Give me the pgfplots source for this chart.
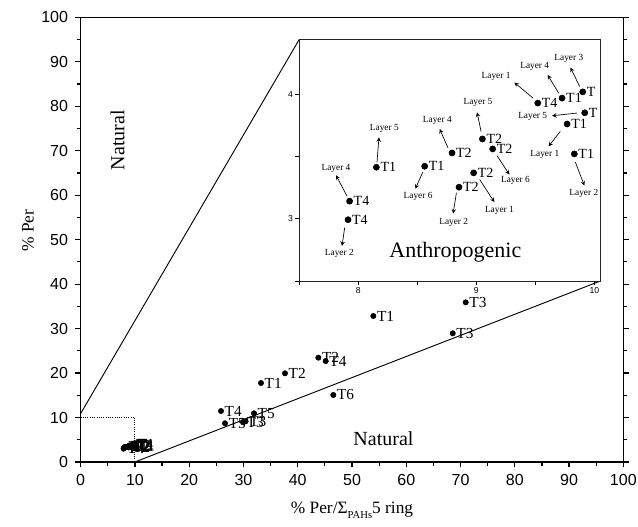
\documentclass[border=0pt]{standalone}
\usepackage{pgfplots}
\pgfplotsset{compat=1.18}
\usepackage{pgfplotstable}
\usepackage{fontspec}
\setmainfont{Liberation Serif}
\setsansfont{Liberation Sans}

\pgfplotstableread[col sep=comma]{
x,y,label
25.86,11.47,T4
26.60,8.70,T5
29.90,8.95,T3
30.40,9.15,T3
31.94,10.95,T5
33.23,17.76,T1
37.65,19.94,T2
43.80,23.46,T2
45.15,22.70,T4
46.56,15.07,T6
53.93,32.83,T1
70.95,35.90,T3
68.56,28.94,T3
}\mainpts

\pgfplotstableread[col sep=comma]{
x,y,label
7.913,2.992,T4
7.926,3.141,T4
8.153,3.413,T1
8.562,3.421,T1
8.794,3.528,T2
8.853,3.253,T2
8.977,3.368,T2
9.051,3.640,T2
9.138,3.560,T2
9.520,3.928,T4
9.726,3.968,T1
9.901,4.018,T
9.918,3.850,T
9.769,3.760,T1
9.830,3.520,T1
}\insetpts

\pgfplotstableread[col sep=comma]{
x,y,label
7.839,2.720,Layer 2
7.811,3.400,Layer 4
8.220,3.722,Layer 5
8.506,3.176,Layer 6
8.669,3.792,Layer 4
8.808,2.973,Layer 2
9.195,3.069,Layer 1
9.014,3.933,Layer 5
9.331,3.306,Layer 6
9.167,4.141,Layer 1
9.494,4.226,Layer 4
9.783,4.285,Layer 3
9.477,3.824,Layer 5
9.580,3.514,Layer 1
9.910,3.200,Layer 2
}\layerlabels

\pgfplotstableread[col sep=comma]{
x,y,u,v
7.884,2.928,-0.022,-0.147
7.904,3.181,-0.093,0.168
8.158,3.453,0.017,0.200
8.546,3.373,-0.063,-0.133
8.760,3.568,-0.071,0.152
8.831,3.208,-0.028,-0.166
9.028,3.314,0.125,-0.181
9.040,3.700,-0.034,0.153
9.175,3.506,0.105,-0.152
9.480,3.968,-0.158,0.125
9.697,4.008,-0.093,0.146
9.875,4.061,-0.078,0.152
9.853,3.848,-0.212,-0.022
9.711,3.701,-0.099,-0.120
9.839,3.453,0.076,-0.187
}\arrows

\begin{document}
\begin{tikzpicture}
\begin{axis}[
  name=main,
  scale only axis,
  width=407pt, height=333.5pt,
  xmin=0, xmax=100, ymin=0, ymax=100,
  xtick={0,10,...,100}, ytick={0,10,...,100},
  minor tick num=1,
  tick align=outside,
  xtick pos=bottom, ytick pos=both, yticklabel pos=left,
  major tick length=4pt, minor tick length=3pt,
  axis line style={line width=0.9pt},
  every tick/.style={black, line width=0.9pt},
  tick label style={font=\sffamily\fontsize{12}{12}\selectfont},
  /pgf/number format/assume math mode=true,
  xticklabel style={yshift=-2pt},
  yticklabel style={xshift=-2pt},
  xlabel={\% Per/Σ\raisebox{-0.6ex}{\fontsize{8}{8}\selectfont PAHs}5 ring},
  ylabel={\% Per},
  every axis x label/.style={at={(axis description cs:0.5,-0.108)}, anchor=center, font=\fontsize{13}{13}\selectfont},
  every axis y label/.style={at={(axis description cs:-0.097,0.52)}, rotate=90, anchor=center, font=\fontsize{13}{13}\selectfont},
  clip=false,
]
\addplot[black, line width=0.7pt] coordinates {(0,10.9) (40.29,95.05)};
\addplot[black, line width=0.7pt] coordinates {(10,0) (95.76,40.70)};
\addplot[black, line width=0.7pt, densely dotted] coordinates {(0,10) (10,10) (10,0)};
\addplot[only marks, mark=*, mark size=2pt, black,
  nodes near coords, point meta=explicit symbolic,
  every node near coord/.style={anchor=west, xshift=2pt, inner sep=0.6pt, font=\fontsize{11.5}{11.5}\selectfont}]
  table[x=x, y=y, meta=label] {\mainpts};
\addplot[only marks, mark=*, mark size=2pt, black,
  nodes near coords, point meta=explicit symbolic,
  every node near coord/.style={anchor=west, xshift=2pt, inner sep=0.6pt, font=\fontsize{11.5}{11.5}\selectfont}]
  table[x=x, y=y, meta=label] {\insetpts};
\node[rotate=90, font=\fontsize{15}{15}\selectfont] at (axis cs:6.8,72.4) {Natural};
\node[font=\fontsize{15}{15}\selectfont] at (axis cs:55.8,5.3) {Natural};
\coordinate (insSW) at (axis cs:40.29,40.70);
\end{axis}

\begin{axis}[
  at={(insSW)}, anchor=south west,
  scale only axis,
  width=225.75pt, height=181.3pt,
  xmin=7.5, xmax=10.05, ymin=2.5, ymax=4.44,
  xtick={8,9,10}, minor xtick={7.5,8.5,9.5},
  ytick={3,4}, minor ytick={2.5,3.5},
  tick align=outside, tick pos=left,
  major tick length=3pt, minor tick length=3pt,
  axis line style={line width=0.6pt, black!85},
  every tick/.style={black, line width=0.6pt},
  tick label style={font=\sffamily\fontsize{6.5}{6.5}\selectfont, inner sep=1.5pt},
  /pgf/number format/assume math mode=true,
  clip=false,
  axis background/.style={fill=white},
]
\addplot[black, -stealth, line width=0.5pt, quiver={u=\thisrow{u}, v=\thisrow{v}}]
  table[x=x, y=y] {\arrows};
\addplot[only marks, mark=*, mark size=2.3pt, black,
  nodes near coords, point meta=explicit symbolic,
  every node near coord/.style={anchor=west, xshift=2.3pt, inner sep=0.6pt, font=\fontsize{10.5}{10.5}\selectfont}]
  table[x=x, y=y, meta=label] {\insetpts};
\addplot[draw=none, mark=none,
  nodes near coords, point meta=explicit symbolic,
  every node near coord/.style={anchor=center, inner sep=0pt, font=\fontsize{7}{7}\selectfont}]
  table[x=x, y=y, meta=label] {\layerlabels};
\node[font=\fontsize{16.5}{16.5}\selectfont] at (axis cs:8.822,2.733) {Anthropogenic};
\end{axis}
\pgfresetboundingbox
\path ([shift={(-60.5pt,-48.75pt)}]main.south west) rectangle ([shift={(11pt,13pt)}]main.north east);
\end{tikzpicture}
\end{document}
